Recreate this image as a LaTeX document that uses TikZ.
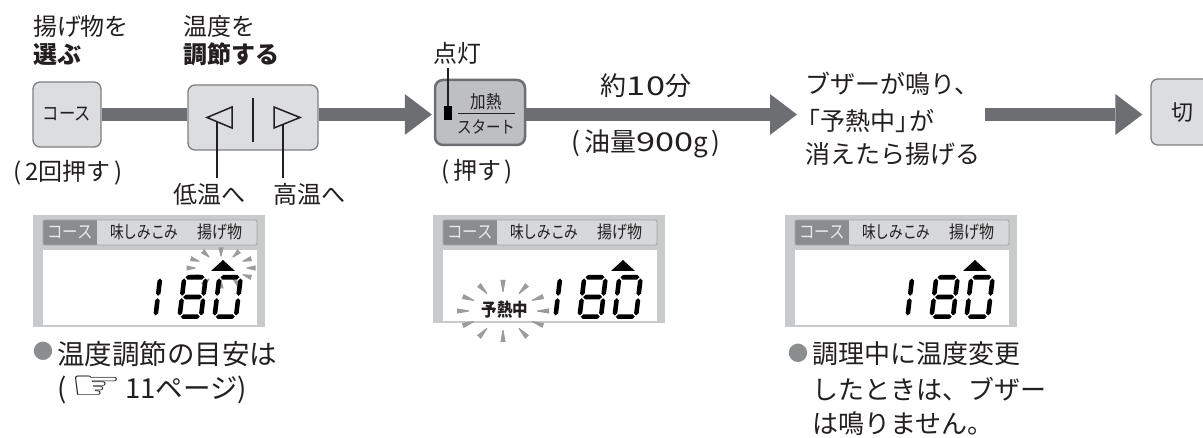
\documentclass[tikz,border=0pt]{standalone}
\usepackage{fontspec}
\usepackage{graphicx}
\setmainfont{Noto Sans CJK JP}
\newfontfamily\dejavu{DejaVu Sans}
\usetikzlibrary{arrows.meta,calc}
\definecolor{txtc}{HTML}{231F20}
\definecolor{barc}{HTML}{6D6E71}
\definecolor{btnf}{HTML}{DCDDDF}
\definecolor{btnd}{HTML}{7D7E80}
\definecolor{stf}{HTML}{BEBFC1}
\definecolor{lcdfr}{HTML}{C9CACC}
\definecolor{lcdbar}{HTML}{D7D8DA}
\definecolor{lcdbd}{HTML}{A2A3A5}
\definecolor{lcdhl}{HTML}{8B8C8E}
\definecolor{lcdhlt}{HTML}{E8E8E8}
\definecolor{raycol}{HTML}{9A9B9D}
\definecolor{bulc}{HTML}{8C8D8F}
\newcommand\widedig[1]{\scalebox{1.32}[1]{#1}}
\newcommand\cond[1]{\scalebox{0.86}[1]{#1}}
\newcommand\hsg[3]{\fill (#1,#3) -- (#1+2.3,#3-2.3) -- (#2-2.3,#3-2.3) -- (#2,#3) -- (#2-2.3,#3+2.3) -- (#1+2.3,#3+2.3) -- cycle;}
\newcommand\vsg[3]{\fill (#1,#2) -- (#1+2.3,#2+2.3) -- (#1+2.3,#3-2.3) -- (#1,#3) -- (#1-2.3,#3-2.3) -- (#1-2.3,#2+2.3) -- cycle;}
\newcommand\segOne{\vsg{23.7}{-40.5}{-23.2}\vsg{23.7}{-20.8}{-3.5}}
\newcommand\segZero{\hsg{3.5}{22.5}{-41.7}\hsg{3.5}{22.5}{-2.3}\vsg{2.3}{-40.5}{-23.2}\vsg{2.3}{-20.8}{-3.5}\vsg{23.7}{-40.5}{-23.2}\vsg{23.7}{-20.8}{-3.5}}
\newcommand\segEight{\segZero\hsg{3.5}{22.5}{-22}}
\newcommand\rays[5]{%
  \foreach \t in {0,30,...,330}{%
    \pgfmathsetmacro\px{#1+#3*cos(\t)}%
    \pgfmathsetmacro\py{#2-#4*sin(\t)}%
    \pgfmathsetmacro\an{atan2(#4*sin(\t),#3*cos(\t))}%
    \fill[raycol,shift={(\px,\py)},rotate=\an] (-#5/2,-0.5) -- (#5/2,-2.6) -- (#5/2,2.6) -- (-#5/2,0.5) -- cycle;
  }}
\newcommand\lcdpanel[3]{%
  \fill[lcdfr] (#1,215) rectangle (#1+232,#2);
  \fill[white] (#1+10,250) rectangle (#1+224,#2-1.5);
  \fill[lcdbar] (#1+10,220) rectangle (#1+224,245);
  \fill[lcdhl] (#1+10,220) rectangle (#1+64,245);
  \draw[lcdbd,line width=0.8pt,rounded corners=2pt] (#1+10,220) rectangle (#1+224,245);
  \node[inner sep=0pt,anchor=base,text=lcdhlt,font=\fontsize{18}{20}\selectfont] (lc#3) at (#1+37,239) {\cond{コース}};
  \node[inner sep=0pt,anchor=base west,text=txtc,font=\fontsize{17.5}{20}\selectfont] (la#3) at (#1+77,239) {\scalebox{0.78}[1]{味しみこみ}};
  \node[inner sep=0pt,anchor=base west,text=txtc,font=\fontsize{17.5}{20}\selectfont] (lb#3) at (#1+164,239) {\cond{揚げ物}};
}
\newcommand\lcddigits[1]{%
  \begin{scope}[shift={(#1+98.5,319)},xslant=0.12,black]\segOne\end{scope}
  \begin{scope}[shift={(#1+144,319)},xslant=0.12,black]\segEight\end{scope}
  \begin{scope}[shift={(#1+179,319)},xslant=0.12,black]\segZero\end{scope}
  \fill[black] (#1+190,260) -- (#1+178,271) -- (#1+202,271) -- cycle;
}
\begin{document}
\begin{tikzpicture}[x=1pt,y=-1pt,
  t/.style={inner sep=0pt,outer sep=0pt,text=txtc,anchor=base west},
  tc/.style={t,anchor=base},
  fa/.style={font=\fontsize{24}{28}\selectfont},
  fab/.style={font=\fontsize{24}{28}\selectfont\bfseries},
  fd/.style={font=\fontsize{26}{30}\selectfont},
  fe/.style={font=\fontsize{25}{30}\selectfont},
  fn/.style={font=\fontsize{26}{30}\selectfont},
  fnl/.style={font=\fontsize{27.5}{30}\selectfont},
  btn/.style={draw=btnd,fill=btnf,line width=1.3pt,rounded corners=7pt,inner sep=0pt,text=txtc},
  startb/.style={draw=barc,fill=stf,line width=2.5pt,rounded corners=8pt,inner sep=0pt},
  bar/.style={draw=barc,line width=13pt},
  arr/.style={bar,-{Triangle[length=27pt 0,width=41pt 0,line width=0pt]}},
  sym/.style={draw=txtc,line width=1.5pt,line join=miter},
  callout/.style={draw=txtc,line width=1.3pt},
  bul/.style={inner sep=0pt,text=bulc,font=\dejavu\fontsize{24}{26}\selectfont}
]
\useasboundingbox (0,0) rectangle (1203,438);

% headings
\node[t,fa] (h1a) at (33,36) {揚げ物を};
\node[t,fab] (h1b) at (33,64) {選ぶ};
\node[t,fa] (h2a) at (183,36) {温度を};
\node[t,fab] (h2b) at (183,64) {調節する};

% buttons
\node[btn,minimum width=68pt,minimum height=65pt,font=\fontsize{19}{20}\selectfont] (course) at (67,114.5) {\cond{コース}};
\node[btn,minimum width=130pt,minimum height=65pt] (temp) at (253,117.5) {};
\node[startb,minimum width=90pt,minimum height=65pt] (start) at (480,112.5) {};
\node[btn,minimum width=62pt,minimum height=66pt,font=\fontsize{22}{24}\selectfont] (kiri) at (1182,112) {切};

% bars and arrows
\draw[bar] (course.east) -- (course.east -| temp.west);
\draw[arr,shorten >=2pt] (temp.east |- course.east) -- (start.west |- course.east);
\coordinate (a3e) at (797,114.5);
\draw[arr] (start.east |- course.east) -- (a3e);
\coordinate (a4s) at (985,114.5);
\draw[arr,shorten >=8pt] (a4s) -- (kiri.west |- a4s);

% temp button symbols
\draw[sym] (207,117.5) -- (232,107) -- (232,128) -- cycle;
\draw[sym] (274,107) -- (300,117.5) -- (274,128) -- cycle;
\draw[txtc,line width=2pt] (253,98) -- (253,142);
\coordinate (lowT) at (217,121.7);
\coordinate (highT) at (283,124.4);
\node[t,fa] (lowL) at (173,204) {低温へ};
\node[t,fa] (highL) at (273,204) {高温へ};
\draw[callout,shorten >=6pt] (lowT) -- (lowT |- lowL.north);
\draw[callout,shorten >=6pt] (highT) -- (highT |- highL.north);
\node[t,fa] (twice) at (13,181) {(\hspace{4pt}2回押す\hspace{4pt})};

% start button content
\node[t,fa] (tento) at (433,63) {点灯};
\node[fill=black,minimum width=8pt,minimum height=14pt,inner sep=0pt] (led) at (448,113) {};
\draw[callout,shorten <=3pt] (tento.south -| led) -- (led.north);
\node[tc,font=\fontsize{18}{20}\selectfont] (kn) at (486,108.5) {\cond{加熱}};
\node[tc,font=\fontsize{17}{20}\selectfont] (st) at (486,133.5) {\scalebox{0.85}[1]{スタート}};
\draw[txtc,line width=1.2pt] (458,113.5) -- (515,113.5);
\node[tc,fa] (push) at (477,180) {(\hspace{4pt}押す\hspace{3pt})};

% arrow labels
\node[tc,fd] (ten) at (646,96) {約\widedig{10}分};
\node[tc,fd] (oil) at (646,152) {(\hspace{4pt}油量\widedig{900}g\hspace{4pt})};
\node[t,fe] (bz1) at (805,93.5) {ブザーが鳴り、};
\node[t,fe] (bz2) at (795,130.5) {「予熱中」\kern-11pt が};
\node[t,fe] (bz3) at (805,164) {消えたら揚げる};

% LCD panels
\lcdpanel{33}{327}{A}
\rays{221}{268}{30}{16}{9}
\lcddigits{33}
\lcdpanel{433}{323}{B}
\rays{503}{311}{40}{25}{12}
\node[tc,font=\fontsize{18}{20}\selectfont\bfseries] (yone) at (505,317) {\cond{予熱中}};
\lcddigits{433}
\lcdpanel{785}{327}{C}
\lcddigits{785}

% notes
\node[bul] (b1) at (43,351.5) {●};
\node[t,fnl] (n1a) at (57,365) {温度調節の目安は};
\node[t,fnl] (n1b) at (57,399) {(\hspace{4pt}\raisebox{-1pt}{\scalebox{2.1}[1.5]{\dejavu ☞}}\hspace{3pt}11ページ)};
\node[bul] (b2) at (798,353) {●};
\node[t,fn] (n2a) at (812,364) {調理中に温度変更};
\node[t,fn] (n2b) at (812,400) {したときは、ブザー};
\node[t,fn] (n2c) at (812,433.5) {は鳴りません。};
\end{tikzpicture}
\end{document}
